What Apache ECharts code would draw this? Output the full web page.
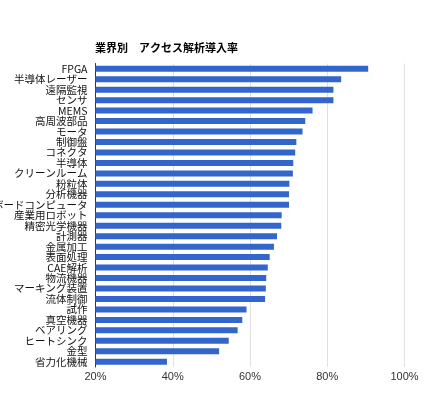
<!DOCTYPE html>
<html>
<head>
<meta charset="utf-8">
<script src="https://cdn.jsdelivr.net/npm/echarts@6/dist/echarts.min.js"></script>
<style>
html,body{margin:0;padding:0;background:#fff;}
#c{width:432px;height:393px;}
</style>
</head>
<body>
<div id="c"></div>
<script>
const titleText = '業界別　アクセス解析導入率';
const categories = ['FPGA','半導体レーザー','遠隔監視','センサ','MEMS','高周波部品','モータ','制御盤','コネクタ','半導体','クリーンルーム','粉粒体','分析機器','ボードコンピュータ','産業用ロボット','精密光学機器','計測器','金属加工','表面処理','CAE解析','物流機器','マーキング装置','流体制御','試作','真空機器','ベアリング','ヒートシンク','金型','省力化機械'];
const values = [90.6,83.6,81.6,81.6,76.2,74.3,73.6,72.0,71.7,71.2,71.1,70.2,70.1,70.1,68.2,68.1,67.0,66.2,65.1,64.6,64.2,64.1,63.9,59.1,58.0,56.8,54.5,52.0,38.5];
const tickValues = [20,40,60,80,100];

const chart = echarts.init(document.getElementById('c'), null, {renderer:'canvas'});
chart.setOption({
  animation:false,
  backgroundColor:'#fff',
  title:{
    text:titleText,
    left:90, top:37,
    textStyle:{fontFamily:'Noto Sans CJK JP',fontSize:11,fontWeight:'bold',color:'#000'}
  },
  grid:{left:95.5,right:27.5,top:63.5,bottom:26,containLabel:false,outerBoundsMode:'none'},
  xAxis:{
    type:'value',
    min:tickValues[0], max:tickValues[tickValues.length-1], interval:20,
    axisLine:{show:false},
    axisTick:{show:false},
    splitLine:{show:true,lineStyle:{color:'#e0e0e0',width:1}},
    axisLabel:{formatter:'{value}%',color:'#333',fontFamily:'Arial, Liberation Sans',fontSize:11,margin:4}
  },
  yAxis:{
    type:'category',
    data:categories,
    inverse:true,
    axisLine:{show:true,lineStyle:{color:'#333',width:1}},
    axisTick:{show:false},
    axisLabel:{color:'#111',fontFamily:'Noto Sans CJK JP',fontSize:10.5,margin:8,interval:0}
  },
  series:[{
    type:'bar',
    data:values,
    barWidth:6,
    itemStyle:{color:'#3366cc'}
  }]
});
</script>
</body>
</html>
